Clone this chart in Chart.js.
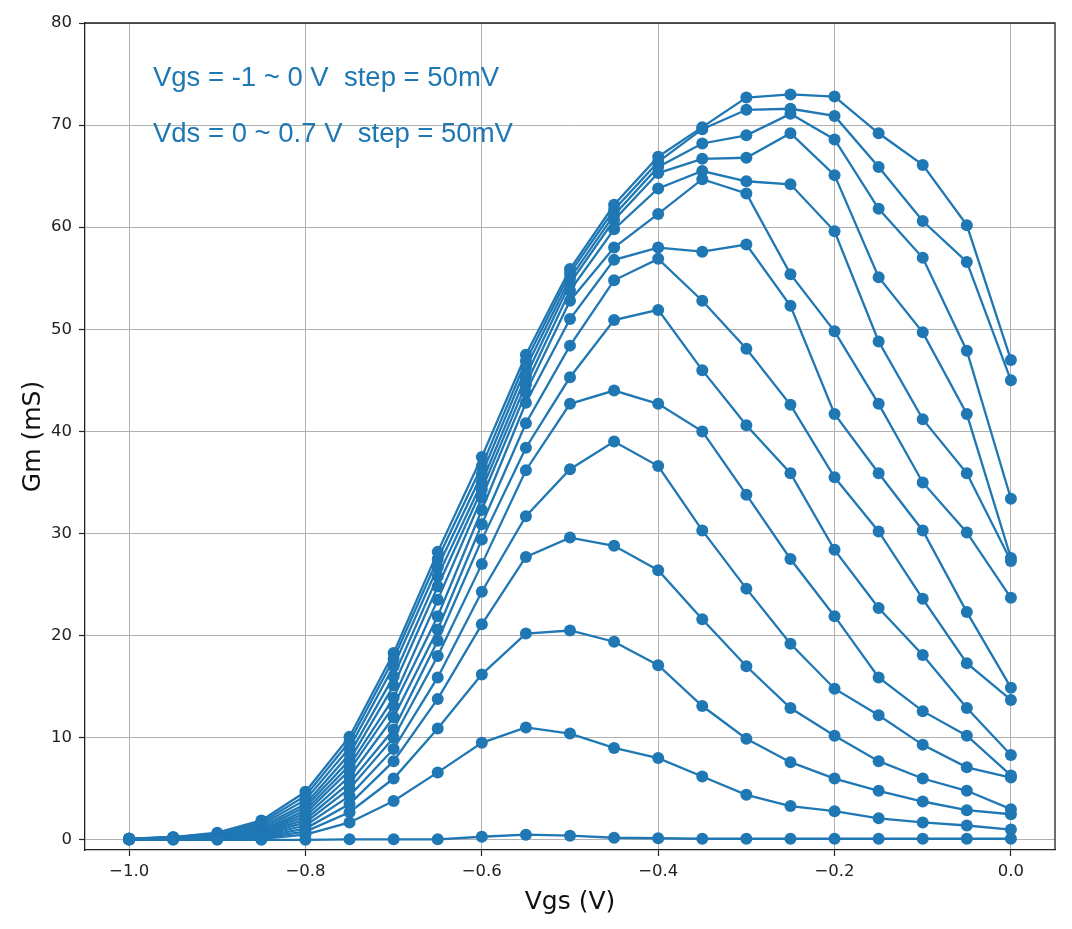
<!DOCTYPE html>
<html>
<head>
<meta charset="utf-8">
<script src="https://cdn.jsdelivr.net/npm/chart.js@4.4.1/dist/chart.umd.min.js"></script>
<style>
  html, body { margin: 0; padding: 0; background: #fff; }
</style>
</head>
<body>
<canvas id="graph" width="1072" height="929"></canvas>
<script>
// Vgs sweep (V)
const vgs = [-1.0, -0.95, -0.9, -0.85, -0.8, -0.75, -0.7, -0.65, -0.6, -0.55, -0.5,
             -0.45, -0.4, -0.35, -0.3, -0.25, -0.2, -0.15, -0.1, -0.05, 0.0];

// Gm (mS), one curve per Vds step (0 .. 0.7 V, 50 mV)
const gmVds000 = [0.0, 0.0, 0.0, 0.0, 0.0, 0.05, 0.05, 0.05, 0.3, 0.5, 0.4, 0.2, 0.15, 0.1, 0.1, 0.1, 0.1, 0.1, 0.1, 0.1, 0.1];
const gmVds005 = [0.05, 0.1, 0.1, 0.1, 0.5, 1.7, 3.8, 6.6, 9.5, 11.0, 10.4, 9.0, 8.0, 6.2, 4.4, 3.3, 2.8, 2.1, 1.7, 1.4, 1.0];
const gmVds010 = [0.05, 0.1, 0.15, 0.2, 0.8, 2.7, 6.0, 10.9, 16.2, 20.2, 20.5, 19.4, 17.1, 13.1, 9.9, 7.6, 6.0, 4.8, 3.75, 2.9, 2.5];
const gmVds015 = [0.05, 0.1, 0.2, 0.3, 1.1, 3.5, 7.7, 13.8, 21.1, 27.7, 29.6, 28.8, 26.4, 21.6, 17.0, 12.9, 10.2, 7.7, 6.0, 4.8, 3.0];
const gmVds020 = [0.05, 0.1, 0.2, 0.4, 1.4, 4.3, 8.9, 15.9, 24.3, 31.7, 36.3, 39.0, 36.6, 30.3, 24.6, 19.2, 14.8, 12.2, 9.3, 7.1, 6.1];
const gmVds025 = [0.05, 0.15, 0.25, 0.5, 1.7, 5.0, 10.0, 18.0, 27.0, 36.2, 42.7, 44.0, 42.7, 40.0, 33.8, 27.5, 21.9, 15.9, 12.6, 10.2, 6.3];
const gmVds030 = [0.05, 0.15, 0.3, 0.6, 2.0, 5.6, 10.8, 19.5, 29.4, 38.4, 45.3, 50.9, 51.9, 46.0, 40.6, 35.9, 28.4, 22.7, 18.1, 12.9, 8.3];
const gmVds035 = [0.05, 0.15, 0.3, 0.7, 2.3, 6.2, 12.0, 20.6, 30.9, 40.8, 48.4, 54.8, 56.9, 52.8, 48.1, 42.6, 35.5, 30.2, 23.6, 17.3, 13.7];
const gmVds040 = [0.1, 0.15, 0.35, 0.8, 2.6, 6.8, 13.1, 21.9, 32.3, 42.8, 51.0, 56.8, 58.0, 57.6, 58.3, 52.3, 41.7, 35.9, 30.3, 22.3, 14.9];
const gmVds045 = [0.1, 0.2, 0.4, 0.9, 2.9, 7.3, 13.9, 23.5, 33.5, 43.8, 52.8, 58.0, 61.3, 64.7, 63.3, 55.4, 49.8, 42.7, 35.0, 30.1, 23.7];
const gmVds050 = [0.1, 0.2, 0.45, 1.1, 3.2, 7.8, 15.1, 24.8, 34.3, 44.6, 53.8, 59.8, 63.8, 65.5, 64.5, 64.2, 59.6, 48.8, 41.2, 35.9, 27.3];
const gmVds055 = [0.1, 0.2, 0.5, 1.3, 3.5, 8.4, 16.0, 25.8, 35.0, 45.4, 54.5, 60.7, 65.3, 66.7, 66.8, 69.2, 65.1, 55.1, 49.7, 41.7, 27.6];
const gmVds060 = [0.1, 0.2, 0.55, 1.5, 3.9, 9.0, 17.0, 26.7, 35.8, 46.2, 55.0, 61.2, 65.9, 68.2, 69.0, 71.1, 68.6, 61.8, 57.0, 47.9, 33.4];
const gmVds065 = [0.1, 0.25, 0.6, 1.7, 4.3, 9.6, 17.7, 27.5, 36.6, 46.9, 55.5, 61.7, 66.4, 69.6, 71.5, 71.6, 70.9, 65.9, 60.6, 56.6, 45.0];
const gmVds070 = [0.1, 0.25, 0.7, 1.9, 4.7, 10.1, 18.3, 28.2, 37.5, 47.5, 55.9, 62.2, 66.9, 69.8, 72.7, 73.0, 72.8, 69.2, 66.1, 60.2, 47.0];

const xTicks = [-1.0, -0.8, -0.6, -0.4, -0.2, 0.0];
const yTicks = [0, 10, 20, 30, 40, 50, 60, 70, 80];
const notes = ["Vgs = -1 ~ 0 V  step = 50mV", "Vds = 0 ~ 0.7 V  step = 50mV"];

const curves = [gmVds000, gmVds005, gmVds010, gmVds015, gmVds020, gmVds025, gmVds030, gmVds035,
                gmVds040, gmVds045, gmVds050, gmVds055, gmVds060, gmVds065, gmVds070];

const blue = '#1f77b4';
const tickFont = { family: 'DejaVu Sans', size: 16.5 };
const titleFont = { family: 'DejaVu Sans', size: 25 };

// top/right spines + the two text notes
const extras = {
  id: 'extras',
  afterDraw(chart) {
    const { ctx, chartArea: a, scales } = chart;
    ctx.save();
    ctx.strokeStyle = '#222';
    ctx.lineWidth = 1.3;
    ctx.beginPath();
    ctx.moveTo(a.left, a.top);
    ctx.lineTo(a.right, a.top);
    ctx.lineTo(a.right, a.bottom);
    ctx.stroke();

    ctx.fillStyle = blue;
    ctx.font = '27.5px "Liberation Sans", Arial, sans-serif';
    ctx.textBaseline = 'middle';
    ctx.textAlign = 'left';
    const x0 = scales.x.getPixelForValue(-0.973);
    ctx.fillText(notes[0], x0, scales.y.getPixelForValue(74.6));
    ctx.fillText(notes[1], x0, scales.y.getPixelForValue(69.1));
    ctx.restore();
  }
};

const graph = new Chart('graph', {
  type: 'scatter',
  data: {
    datasets: curves.map((c) => ({
      data: c.map((v, i) => ({ x: vgs[i], y: v })),
      showLine: true,
      borderColor: blue,
      backgroundColor: blue,
      borderWidth: 2.3,
      pointRadius: 6,
      pointHoverRadius: 6,
      pointBorderWidth: 0
    }))
  },
  options: {
    responsive: false,
    animation: false,
    layout: { padding: { left: 0, top: 23, right: 17, bottom: 0 } },
    plugins: { legend: { display: false }, tooltip: { enabled: false } },
    scales: {
      x: {
        type: 'linear',
        min: -1.05,
        max: 0.05,
        afterBuildTicks: (s) => { s.ticks = xTicks.map((v) => ({ value: v })); },
        afterFit: (s) => { s.height = 79; },
        ticks: {
          color: '#222',
          font: tickFont,
          padding: 6,
          maxRotation: 0,
          callback: (v) => v.toFixed(1).replace('-', '\u2212')
        },
        grid: { color: '#b0b0b0', lineWidth: 1, tickLength: 6, tickColor: '#222', tickWidth: 1.2 },
        border: { display: true, color: '#222', width: 1.3 },
        title: { display: true, text: 'Vgs (V)', color: '#111', font: titleFont, padding: { top: 0, bottom: 12 } }
      },
      y: {
        type: 'linear',
        min: -1,
        max: 80,
        afterBuildTicks: (s) => { s.ticks = yTicks.map((v) => ({ value: v })); },
        afterFit: (s) => { s.width = 85; },
        ticks: { color: '#222', font: tickFont, padding: 7, callback: (v) => String(v) },
        grid: { color: '#b0b0b0', lineWidth: 1, tickLength: 6, tickColor: '#222', tickWidth: 1.2 },
        border: { display: true, color: '#222', width: 1.3 },
        title: { display: true, text: 'Gm (mS)', color: '#111', font: titleFont, padding: { top: 18, bottom: 0 } }
      }
    }
  },
  plugins: [extras]
});
</script>
</body>
</html>
